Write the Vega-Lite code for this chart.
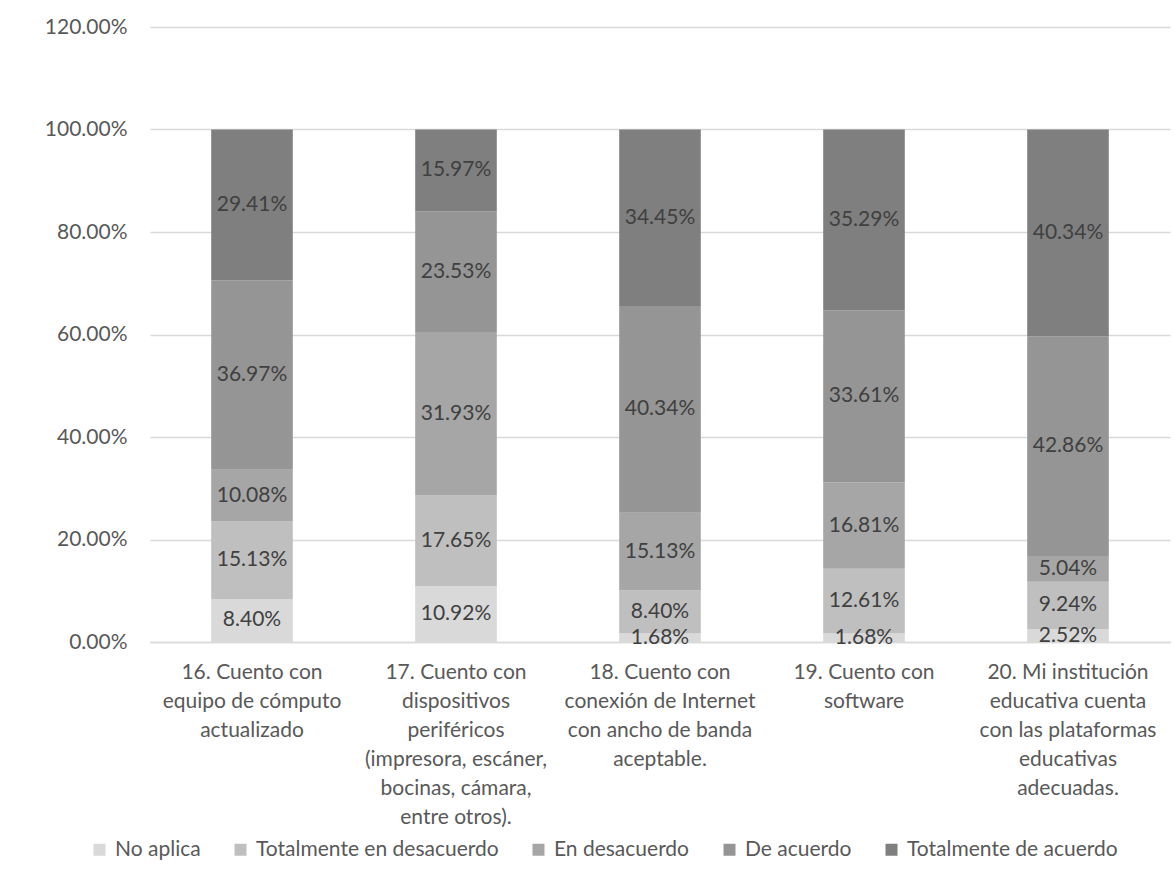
{
  "$schema": "https://vega.github.io/schema/vega-lite/v6.json",
  "autosize": {"type": "none"},
  "width": 1020,
  "height": 615,
  "padding": {"left": 150, "top": 27, "right": 4, "bottom": 240},
  "background": "white",
  "config": {
    "font": "Lato",
    "view": {"stroke": null}
  },
  "data": {
    "values": [
      {"pregunta": "16. Cuento con|equipo de cómputo|actualizado", "respuesta": "No aplica", "orden": 1, "valor": 0.0840},
      {"pregunta": "16. Cuento con|equipo de cómputo|actualizado", "respuesta": "Totalmente en desacuerdo", "orden": 2, "valor": 0.1513},
      {"pregunta": "16. Cuento con|equipo de cómputo|actualizado", "respuesta": "En desacuerdo", "orden": 3, "valor": 0.1008},
      {"pregunta": "16. Cuento con|equipo de cómputo|actualizado", "respuesta": "De acuerdo", "orden": 4, "valor": 0.3697},
      {"pregunta": "16. Cuento con|equipo de cómputo|actualizado", "respuesta": "Totalmente de acuerdo", "orden": 5, "valor": 0.2941},
      {"pregunta": "17. Cuento con|dispositivos|periféricos|(impresora, escáner,|bocinas, cámara,|entre otros).", "respuesta": "No aplica", "orden": 1, "valor": 0.1092},
      {"pregunta": "17. Cuento con|dispositivos|periféricos|(impresora, escáner,|bocinas, cámara,|entre otros).", "respuesta": "Totalmente en desacuerdo", "orden": 2, "valor": 0.1765},
      {"pregunta": "17. Cuento con|dispositivos|periféricos|(impresora, escáner,|bocinas, cámara,|entre otros).", "respuesta": "En desacuerdo", "orden": 3, "valor": 0.3193},
      {"pregunta": "17. Cuento con|dispositivos|periféricos|(impresora, escáner,|bocinas, cámara,|entre otros).", "respuesta": "De acuerdo", "orden": 4, "valor": 0.2353},
      {"pregunta": "17. Cuento con|dispositivos|periféricos|(impresora, escáner,|bocinas, cámara,|entre otros).", "respuesta": "Totalmente de acuerdo", "orden": 5, "valor": 0.1597},
      {"pregunta": "18. Cuento con|conexión de Internet|con ancho de banda|aceptable.", "respuesta": "No aplica", "orden": 1, "valor": 0.0168},
      {"pregunta": "18. Cuento con|conexión de Internet|con ancho de banda|aceptable.", "respuesta": "Totalmente en desacuerdo", "orden": 2, "valor": 0.0840},
      {"pregunta": "18. Cuento con|conexión de Internet|con ancho de banda|aceptable.", "respuesta": "En desacuerdo", "orden": 3, "valor": 0.1513},
      {"pregunta": "18. Cuento con|conexión de Internet|con ancho de banda|aceptable.", "respuesta": "De acuerdo", "orden": 4, "valor": 0.4034},
      {"pregunta": "18. Cuento con|conexión de Internet|con ancho de banda|aceptable.", "respuesta": "Totalmente de acuerdo", "orden": 5, "valor": 0.3445},
      {"pregunta": "19. Cuento con|software", "respuesta": "No aplica", "orden": 1, "valor": 0.0168},
      {"pregunta": "19. Cuento con|software", "respuesta": "Totalmente en desacuerdo", "orden": 2, "valor": 0.1261},
      {"pregunta": "19. Cuento con|software", "respuesta": "En desacuerdo", "orden": 3, "valor": 0.1681},
      {"pregunta": "19. Cuento con|software", "respuesta": "De acuerdo", "orden": 4, "valor": 0.3361},
      {"pregunta": "19. Cuento con|software", "respuesta": "Totalmente de acuerdo", "orden": 5, "valor": 0.3529},
      {"pregunta": "20. Mi institución|educativa cuenta|con las plataformas|educativas|adecuadas.", "respuesta": "No aplica", "orden": 1, "valor": 0.0252},
      {"pregunta": "20. Mi institución|educativa cuenta|con las plataformas|educativas|adecuadas.", "respuesta": "Totalmente en desacuerdo", "orden": 2, "valor": 0.0924},
      {"pregunta": "20. Mi institución|educativa cuenta|con las plataformas|educativas|adecuadas.", "respuesta": "En desacuerdo", "orden": 3, "valor": 0.0504},
      {"pregunta": "20. Mi institución|educativa cuenta|con las plataformas|educativas|adecuadas.", "respuesta": "De acuerdo", "orden": 4, "valor": 0.4286},
      {"pregunta": "20. Mi institución|educativa cuenta|con las plataformas|educativas|adecuadas.", "respuesta": "Totalmente de acuerdo", "orden": 5, "valor": 0.4034}
    ]
  },
  "transform": [
    {"stack": "valor", "groupby": ["pregunta"], "sort": [{"field": "orden", "order": "ascending"}], "as": ["v0", "v1"]},
    {"calculate": "(datum.v0 + datum.v1) / 2", "as": "vmid"}
  ],
  "encoding": {
    "x": {
      "field": "pregunta",
      "type": "nominal",
      "sort": null,
      "title": null,
      "scale": {"paddingInner": 0.6, "paddingOuter": 0.3},
      "axis": {
        "labelAngle": 0,
        "labelExpr": "split(datum.label, '|')",
        "labelLineHeight": 29,
        "labelFontSize": 21,
        "labelColor": "#595959",
        "labelPadding": 19,
        "labelLimit": 0,
        "ticks": false,
        "domainColor": "#d9d9d9",
        "domainWidth": 1.5,
        "grid": false
      }
    }
  },
  "layer": [
    {
      "mark": {"type": "bar"},
      "encoding": {
        "y": {
          "field": "v0",
          "type": "quantitative",
          "title": null,
          "scale": {"domain": [0, 1.2], "nice": false},
          "axis": {
            "values": [0, 0.2, 0.4, 0.6, 0.8, 1.0, 1.2],
            "format": ".2%",
            "labelFontSize": 21,
            "labelColor": "#595959",
            "labelPadding": 23,
            "ticks": false,
            "domain": false,
            "gridColor": "#d9d9d9",
            "gridWidth": 1.5
          }
        },
        "y2": {"field": "v1"},
        "color": {
          "field": "respuesta",
          "type": "nominal",
          "title": null,
          "scale": {
            "domain": ["No aplica", "Totalmente en desacuerdo", "En desacuerdo", "De acuerdo", "Totalmente de acuerdo"],
            "range": ["#d9d9d9", "#bfbfbf", "#a6a6a6", "#959595", "#7f7f7f"]
          },
          "legend": {
            "orient": "none",
            "legendX": -61,
            "legendY": 812,
            "direction": "horizontal",
            "columns": 5,
            "columnPadding": 29,
            "symbolType": "square",
            "symbolSize": 144,
            "symbolStrokeWidth": 0,
            "labelFontSize": 21,
            "labelColor": "#595959",
            "labelOffset": 5,
            "labelLimit": 0
          }
        }
      }
    },
    {
      "mark": {"type": "text", "fontSize": 21, "color": "#404040", "baseline": "middle", "align": "center"},
      "encoding": {
        "y": {"field": "vmid", "type": "quantitative"},
        "text": {"field": "valor", "type": "quantitative", "format": ".2%"}
      }
    }
  ]
}
